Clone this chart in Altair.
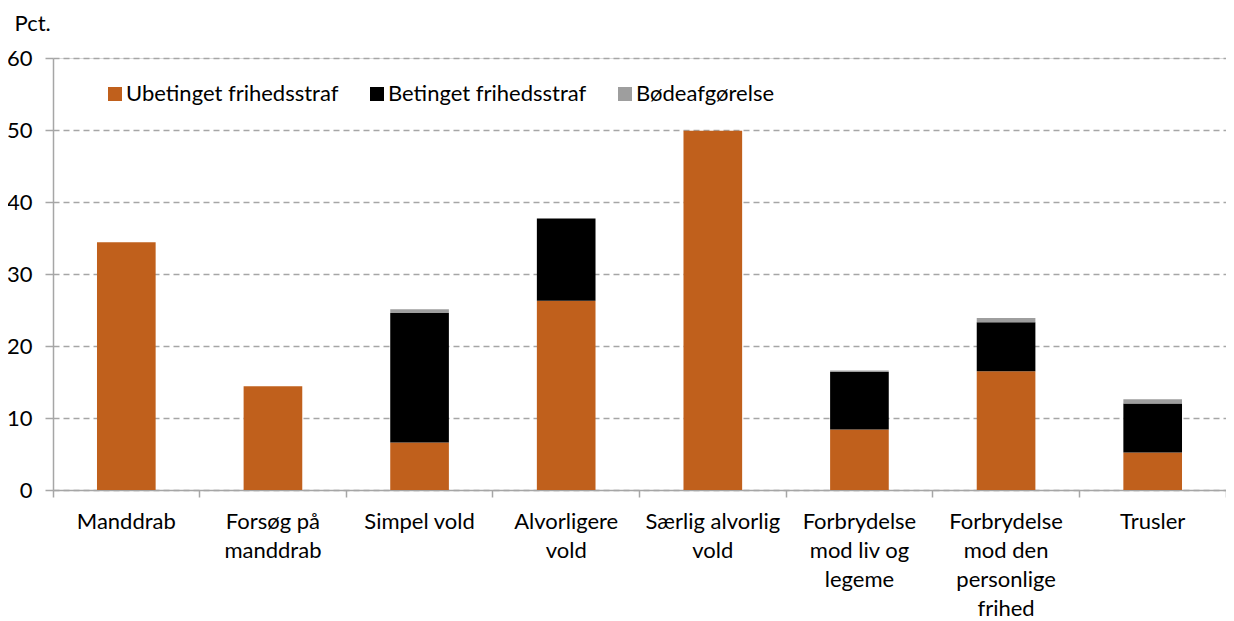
import altair as alt
import pandas as pd

categories = ["Manddrab", "Forsøg på manddrab", "Simpel vold", "Alvorligere vold",
              "Særlig alvorlig vold", "Forbrydelse mod liv og legeme",
              "Forbrydelse mod den personlige frihed", "Trusler"]
label_lines = [["Manddrab"], ["Forsøg på", "manddrab"], ["Simpel vold"], ["Alvorligere", "vold"],
               ["Særlig alvorlig", "vold"], ["Forbrydelse", "mod liv og", "legeme"],
               ["Forbrydelse", "mod den", "personlige", "frihed"], ["Trusler"]]
series = ["Ubetinget frihedsstraf", "Betinget frihedsstraf", "Bødeafgørelse"]
ubetinget = [34.4, 14.4, 6.6, 26.3, 49.9, 8.4, 16.5, 5.2]
betinget = [0.0, 0.0, 18.0, 11.4, 0.0, 8.0, 6.8, 6.8]
boede = [0.0, 0.0, 0.5, 0.0, 0.0, 0.2, 0.6, 0.6]
colors = ["#C0601C", "#000000", "#9E9E9E"]
y_ticks = [0, 10, 20, 30, 40, 50, 60]

rows = []
for si, (name, vals) in enumerate(zip(series, [ubetinget, betinget, boede])):
    for c, v in zip(categories, vals):
        rows.append({"kategori": c, "serie": name, "værdi": v, "idx": si})
df = pd.DataFrame(rows)

def lit(s):
    return "'" + s.replace("'", "\\'") + "'"

parts = []
for c, lines in zip(categories, label_lines):
    parts.append(f"datum.value == {lit(c)} ? [{', '.join(lit(l) for l in lines)}]")
label_expr = " : ".join(parts) + " : datum.value"

FONT = "Lato"
W, H = 1173, 432

chart = alt.Chart(df).mark_bar(width={"band": 0.4}).encode(
    x=alt.X("kategori:N", sort=categories, title=None,
            scale=alt.Scale(paddingInner=0, paddingOuter=0),
            axis=alt.Axis(labelExpr=label_expr, labelAngle=0, labelFont=FONT, labelFontSize=22,
                          labelColor="#000000", labelLineHeight=29, labelPadding=14,
                          labelLimit=300, tickSize=7, tickColor="#A6A6A6", tickWidth=1.5,
                          domainColor="#A6A6A6", domainWidth=1.5, bandPosition=1,
                          tickExtra=True, grid=False)),
    y=alt.Y("værdi:Q", stack="zero", title="Pct.",
            scale=alt.Scale(domain=[0, 60], nice=False),
            axis=alt.Axis(values=y_ticks, labelFont=FONT, labelFontSize=22, labelColor="#000000",
                          labelPadding=13, tickSize=8, tickColor="#A6A6A6", tickWidth=1.5,
                          domainColor="#A6A6A6", domainWidth=1.5,
                          grid=True, gridColor="#A6A6A6", gridDash=[6, 4], gridWidth=1.3,
                          titleAngle=0, titleAlign="left", titleBaseline="alphabetic",
                          titleX=-39, titleY=-28, titleFont=FONT, titleFontSize=22,
                          titleFontWeight="normal", titleColor="#000000")),
    color=alt.Color("serie:N", sort=series, scale=alt.Scale(domain=series, range=colors),
                    legend=alt.Legend(title=None, orient="none", legendX=51, legendY=25,
                                      direction="horizontal", symbolType="square",
                                      symbolSize=196, symbolStrokeWidth=0, labelFont=FONT,
                                      labelFontSize=22, labelColor="#000000", labelOffset=0,
                                      columnPadding=27, padding=0, labelLimit=400)),
    order=alt.Order("idx:Q", sort="ascending"),
).properties(
    width=W, height=H,
    autosize=alt.AutoSizeParams(type="none"),
    padding={"left": 45, "top": 50, "right": 0, "bottom": 131},
).configure_view(stroke=None).configure(font=FONT)

chart.save("out.html", embed_options={"renderer": "svg", "actions": False})
